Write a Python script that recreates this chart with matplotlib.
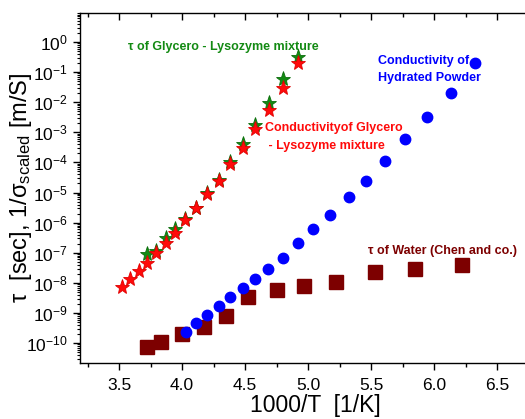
import numpy as np
import matplotlib
matplotlib.use("Agg")
import matplotlib.pyplot as plt
from matplotlib.ticker import LogLocator, MultipleLocator, FuncFormatter, NullFormatter

plt.rcParams['font.family'] = ['Liberation Sans', 'DejaVu Sans']
plt.rcParams['mathtext.fontset'] = 'custom'
plt.rcParams['mathtext.rm'] = 'Liberation Sans'
plt.rcParams['mathtext.it'] = 'Liberation Sans'

# Conductivity of Glycero-Lysozyme mixture (red stars)
red_x = [3.52, 3.59, 3.66, 3.72, 3.79, 3.87, 3.94, 4.02, 4.11, 4.20, 4.29, 4.38, 4.48, 4.58, 4.69, 4.80, 4.92]
red_logy = [-8.13, -7.87, -7.60, -7.33, -7.00, -6.67, -6.33, -5.90, -5.53, -5.05, -4.62, -4.05, -3.52, -2.90, -2.26, -1.54, -0.71]

# tau of Glycero-Lysozyme mixture (green stars)
green_x = [3.72, 3.79, 3.87, 3.94, 4.02, 4.11, 4.20, 4.29, 4.38, 4.48, 4.58, 4.69, 4.80, 4.92]
green_logy = [-7.05, -6.95, -6.50, -6.22, -5.87, -5.50, -5.03, -4.60, -3.98, -3.39, -2.76, -2.02, -1.24, -0.51]

# Conductivity of hydrated powder (blue circles)
blue_x = [4.03, 4.11, 4.20, 4.29, 4.38, 4.48, 4.58, 4.68, 4.80, 4.92, 5.04, 5.17, 5.32, 5.46, 5.61, 5.77, 5.94, 6.13, 6.32]
blue_logy = [-9.63, -9.34, -9.07, -8.77, -8.47, -8.18, -7.87, -7.54, -7.17, -6.68, -6.22, -5.73, -5.15, -4.62, -3.95, -3.22, -2.50, -1.70, -0.69]

# tau of water (Chen and co.) (dark red squares)
water_x = [3.72, 3.83, 4.00, 4.17, 4.35, 4.52, 4.75, 4.97, 5.22, 5.53, 5.85, 6.22]
water_logy = [-10.13, -9.97, -9.70, -9.47, -9.10, -8.47, -8.24, -8.11, -7.97, -7.64, -7.54, -7.41]

W, H = 525, 419
fig = plt.figure(figsize=(W / 100, H / 100), dpi=100)
ax = fig.add_axes([80 / W, 1 - 363 / H, 1 - 80 / W, (363 - 13) / H])

ax.set_yscale('log')
ax.set_xlim(3.19, 6.72)
ax.set_ylim(10 ** -10.66, 10 ** 0.96)

def p(v):
    return 10 ** np.array(v)

ax.plot(green_x, p(green_logy), linestyle='none', marker='*', ms=11, color='#138a13',
        mec='#0c6e0c', mew=0.6, zorder=3)
ax.plot(red_x, p(red_logy), linestyle='none', marker='*', ms=11, color='#ff0a0a',
        mec='#e00000', mew=0.6, zorder=4)
ax.plot(blue_x, p(blue_logy), linestyle='none', marker='o', ms=7.5, color='#0000ff',
        mec='#0000ff', zorder=4)
ax.plot(water_x, p(water_logy), linestyle='none', marker='s', ms=9.5, color='#7d0000',
        mec='#7d0000', zorder=3)

# spines
ax.spines['right'].set_visible(False)
for s in ['left', 'bottom', 'top']:
    ax.spines[s].set_linewidth(1.0)

ax.xaxis.set_major_locator(MultipleLocator(0.5))
ax.xaxis.set_minor_locator(MultipleLocator(0.25))
ax.xaxis.set_major_formatter(FuncFormatter(lambda v, _: f"{v:.1f}"))
ax.yaxis.set_major_locator(LogLocator(base=10, numticks=20))
ax.yaxis.set_minor_locator(LogLocator(base=10, subs=np.arange(2, 10), numticks=20))
ax.yaxis.set_minor_formatter(NullFormatter())
ax.yaxis.set_major_formatter(FuncFormatter(lambda v, _: r"$10^{%d}$" % int(round(np.log10(v)))))

ax.tick_params(axis='x', which='both', direction='out', top=True, labeltop=False,
               labelsize=12.5, pad=6)
ax.tick_params(axis='x', which='major', length=5, width=1)
ax.tick_params(axis='x', which='minor', length=3, width=1)
ax.tick_params(axis='y', which='major', direction='out', length=5, width=1, labelsize=12.5, right=False)
ax.tick_params(axis='y', which='minor', direction='out', length=2.5, width=0.8, right=False)

# top ticks point inward
for t in ax.xaxis.get_major_ticks() + ax.xaxis.get_minor_ticks():
    t.tick2line.set_marker(matplotlib.lines.TICKDOWN)

ax.set_xlabel("1000/T  [1/K]", fontsize=16.5)
ax.xaxis.set_label_coords((315 - 80) / (W - 80), -(417 - 363) / (363 - 13))
ax.xaxis.label.set_va('bottom')
ax.set_ylabel(r"τ  [sec], 1/σ$_{\mathrm{scaled}}$ [m/S]", fontsize=17)
ax.yaxis.set_label_coords((34 - 80) / (W - 80), 0.5)

def ft(x, y, s, color, size=9):
    fig.text(x / W, 1 - y / H, s, color=color, fontsize=size, fontweight='bold',
             ha='left', va='center')

ft(128, 47, "τ of Glycero - Lysozyme mixture", '#138a13')
ft(265, 128, "Conductivityof Glycero", '#ff0a0a')
ft(265, 146, " - Lysozyme mixture", '#ff0a0a')
ft(378, 61, "Conductivity of", '#0000ff')
ft(378, 78, "Hydrated Powder", '#0000ff')
ft(368, 251, "τ of Water (Chen and co.)", '#7d0000')

fig.savefig("out.png", dpi=100)
